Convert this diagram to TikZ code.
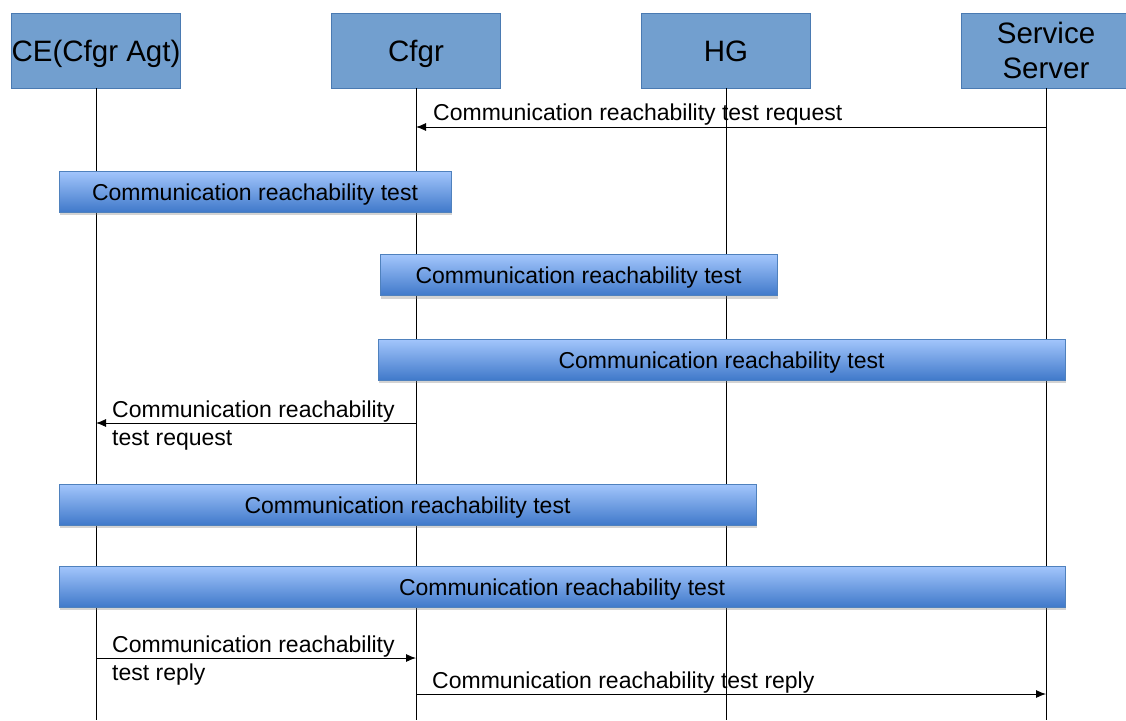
\documentclass[tikz,border=0pt]{standalone}
\usepackage{fontspec}
\setmainfont{Liberation Sans}
\usetikzlibrary{arrows.meta,shadows}

\definecolor{actorfill}{RGB}{114,159,207}
\definecolor{actorline}{RGB}{74,122,178}
\definecolor{bartop}{RGB}{163,198,252}
\definecolor{barbottom}{RGB}{64,121,202}
\definecolor{barline}{RGB}{79,129,189}

\begin{document}
\begin{tikzpicture}[x=1pt,y=-1pt,
  actor/.style={draw=actorline, fill=actorfill, line width=0.8pt,
    minimum width=169pt, minimum height=75pt, inner sep=0pt, align=center,
    font=\fontsize{29.5}{35}\selectfont},
  oneline/.style={text height=22pt, text depth=0pt},
  testbar/.style={draw=barline, line width=0.8pt, top color=bartop, bottom color=barbottom,
    minimum height=41pt, inner sep=0pt, text height=17pt, text depth=0pt,
    drop shadow={shadow xshift=1pt, shadow yshift=-3pt, opacity=0.35},
    font=\fontsize{23}{27}\selectfont},
  lifeline/.style={line width=0.8pt},
  msg/.style={line width=0.9pt, -{Latex[length=10pt,width=8pt]}},
  msglabel/.style={inner sep=0pt, align=left, font=\fontsize{23}{27.5}\selectfont},
]
\useasboundingbox (0,0) rectangle (1126,720);

% participants
\node[actor, oneline] (ce)   at (96,50.5)   {CE(Cfgr Agt)};
\node[actor, oneline] (cfgr) at (416,50.5)  {Cfgr};
\node[actor, oneline] (hg)   at (726,50.5)  {HG};
\node[actor]          (ss)   at (1046,50.5) {Service\\Server};

% lifelines
\coordinate (ceend)   at (96,720);
\coordinate (cfgrend) at (416,720);
\coordinate (hgend)   at (726,720);
\coordinate (ssend)   at (1046,720);
\draw[lifeline] (ce.south)   -- (ceend);
\draw[lifeline] (cfgr.south) -- (cfgrend);
\draw[lifeline] (hg.south)   -- (hgend);
\draw[lifeline] (ss.south)   -- (ssend);

% request from the service server to the configurator
\draw[msg] (ss |- 0,127) -- (cfgr |- 0,127);
\node[msglabel, anchor=base west] (l1) at (433,120) {Communication reachability test request};

% reachability test phases
\node[testbar, minimum width=392pt] (t1) at (255,191.5)   {Communication reachability test};
\node[testbar, minimum width=397pt] (t2) at (578.5,275)   {Communication reachability test};
\node[testbar, minimum width=687pt] (t3) at (721.5,359.5) {Communication reachability test};

% request forwarded to the agent
\draw[msg] (cfgr |- 0,423) -- (ce |- 0,423);
\node[msglabel, anchor=north west] (l2) at (112,401) {Communication reachability\\test request};

\node[testbar, minimum width=697pt]  (t4) at (407.5,504.5) {Communication reachability test};
\node[testbar, minimum width=1006pt] (t5) at (562,586.5)   {Communication reachability test};

% replies
\draw[msg] (ce |- 0,658) -- (cfgr |- 0,658);
\node[msglabel, anchor=north west] (l3) at (112,636) {Communication reachability\\test reply};

\draw[msg] (cfgr |- 0,694) -- (ss |- 0,694);
\node[msglabel, anchor=base west] (l4) at (432,688) {Communication reachability test reply};
\end{tikzpicture}
\end{document}
